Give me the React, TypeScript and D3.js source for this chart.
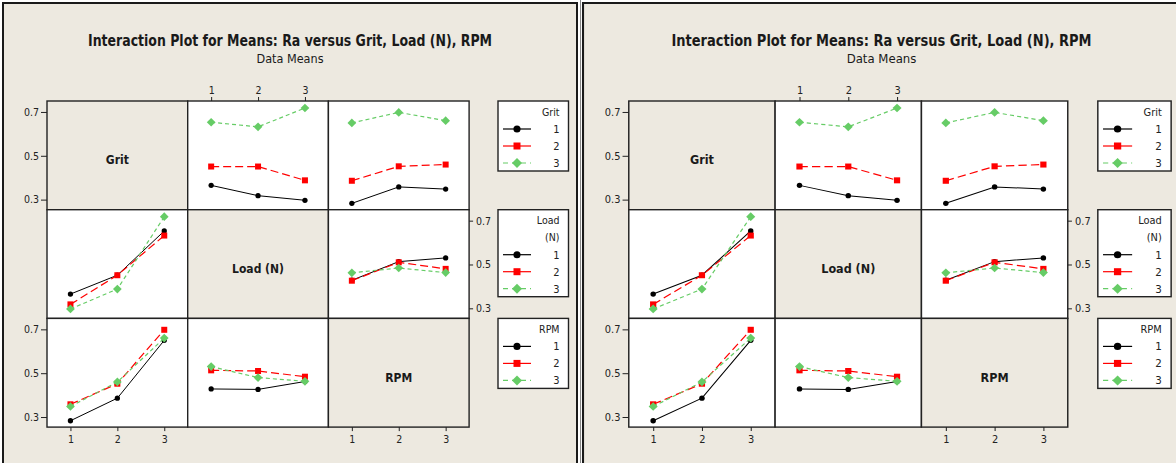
import { useRef, useEffect } from 'react';
import * as d3 from 'd3';

const levels = [1, 2, 3];
const factorLabels = ['Grit', 'Load (N)', 'RPM'];
const legendTitles = [['Grit'], ['Load', '(N)'], ['RPM']];
const yTicks = [0.3, 0.5, 0.7];

// mean Ra: [level of first factor][level of second factor]
const gritByLoad = [
  [0.365, 0.318, 0.297],
  [0.451, 0.451, 0.388],
  [0.653, 0.632, 0.718],
];
const gritByRpm = [
  [0.283, 0.358, 0.348],
  [0.386, 0.452, 0.46],
  [0.65, 0.698, 0.66],
];
const loadByRpm = [
  [0.428, 0.513, 0.53],
  [0.426, 0.51, 0.48],
  [0.462, 0.484, 0.463],
];

const BG = '#ede9e0';
const FONT = '"Liberation Sans Narrow", "DejaVu Sans Condensed", "Liberation Sans", sans-serif';
const seriesColor = ['#000000', '#ff0000', '#66cc66'];
const seriesDash = [null, '8,4', '4,3'];
const legendDash = [null, null, '5,4'];

// mean Ra for factor f1 at level a and factor f2 at level b
function meanRa(f1: number, a: number, f2: number, b: number): number {
  if (f1 > f2) return meanRa(f2, b, f1, a);
  if (f1 === 0 && f2 === 1) return gritByLoad[a][b];
  if (f1 === 0 && f2 === 2) return gritByRpm[a][b];
  return loadByRpm[a][b];
}

function symbolPath(i: number, big: boolean) {
  if (i === 0) return d3.symbol().type(d3.symbolCircle).size(big ? 40 : 22)()!;
  if (i === 1) return d3.symbol().type(d3.symbolSquare).size(big ? 49 : 36)()!;
  return d3.symbol().type(d3.symbolSquare).size(big ? 50 : 38)()!;
}

function drawPanel(g: d3.Selection<SVGGElement, unknown, null, undefined>) {
  const gridLeft = 47;
  const gridTop = 101;
  const colW = 140.7;
  const rowH = 108.7;
  const legendX = 498;
  const legendW = 70.5;

  g.append('rect').attr('x', 3).attr('y', 3).attr('width', 574).attr('height', 490)
    .attr('fill', BG).attr('stroke', '#1a1a1a').attr('stroke-width', 2);

  g.append('text').attr('x', 290).attr('y', 46).attr('text-anchor', 'middle')
    .attr('font-family', FONT).attr('font-weight', 'bold').attr('font-size', 16).attr('fill', '#1a1a1a')
    .attr('textLength', 404).attr('lengthAdjust', 'spacingAndGlyphs')
    .text('Interaction Plot for Means: Ra versus Grit, Load (N), RPM');
  g.append('text').attr('x', 290).attr('y', 63).attr('text-anchor', 'middle')
    .attr('font-family', FONT).attr('font-size', 13).attr('fill', '#1a1a1a')
    .attr('textLength', 67).attr('lengthAdjust', 'spacingAndGlyphs')
    .text('Data Means');

  const x = d3.scaleLinear().domain([0.5, 3.5]).range([0, colW]);
  const y = d3.scaleLinear().domain([0.254, 0.75]).range([rowH, 0]);

  for (let r = 0; r < 3; r++) {
    for (let c = 0; c < 3; c++) {
      const cell = g.append('g').attr('transform', `translate(${gridLeft + c * colW},${gridTop + r * rowH})`);
      cell.append('rect').attr('width', colW).attr('height', rowH)
        .attr('fill', r === c ? BG : '#fff').attr('stroke', '#222').attr('stroke-width', 1.4);
      if (r === c) {
        cell.append('text').attr('x', colW / 2).attr('y', rowH / 2 + 9).attr('text-anchor', 'middle')
          .attr('font-family', FONT).attr('font-weight', 'bold').attr('font-size', 12).attr('fill', '#1a1a1a')
          .text(factorLabels[r]);
        continue;
      }
      levels.forEach((_, s) => {
        const pts = levels.map((lv, b) => [x(lv), y(meanRa(r, s, c, b))] as [number, number]);
        cell.append('path').attr('d', d3.line()(pts)).attr('fill', 'none')
          .attr('stroke', seriesColor[s]).attr('stroke-width', s === 0 ? 1 : 1.2)
          .attr('stroke-dasharray', seriesDash[s]);
        pts.forEach(([px, py]) => {
          cell.append('path').attr('d', symbolPath(s, false)).attr('fill', seriesColor[s])
            .attr('transform', `translate(${px},${py})${s === 2 ? ' rotate(45)' : ''}`);
        });
      });
    }
  }

  const styleAxis = (ax: d3.Selection<SVGGElement, unknown, null, undefined>) => {
    ax.select('.domain').remove();
    ax.selectAll('line').attr('stroke', '#222');
    ax.selectAll('text').attr('font-family', FONT).attr('font-size', 10.5).attr('fill', '#222');
  };

  [0, 2].forEach((r) => {
    const ax = g.append('g').attr('transform', `translate(${gridLeft},${gridTop + r * rowH})`)
      .call(d3.axisLeft(y).tickValues(yTicks).tickSize(6).tickPadding(2).tickFormat(d3.format('.1f')));
    styleAxis(ax);
  });
  const axR = g.append('g').attr('transform', `translate(${gridLeft + 3 * colW},${gridTop + rowH})`)
    .call(d3.axisRight(y).tickValues(yTicks).tickSize(4).tickPadding(3).tickFormat(d3.format('.1f')));
  styleAxis(axR);
  const axT = g.append('g').attr('transform', `translate(${gridLeft + colW},${gridTop})`)
    .call(d3.axisTop(x).tickValues(levels).tickSize(4).tickPadding(3).tickFormat(d3.format('d')));
  styleAxis(axT);
  [0, 2].forEach((c) => {
    const ax = g.append('g').attr('transform', `translate(${gridLeft + c * colW},${gridTop + 3 * rowH})`)
      .call(d3.axisBottom(x).tickValues(levels).tickSize(4).tickPadding(4).tickFormat(d3.format('d')));
    styleAxis(ax);
  });

  legendTitles.forEach((titleLines, r) => {
    const top = gridTop + r * rowH;
    const h = 11 + (titleLines.length + 2) * 17 + 8;
    const lg = g.append('g').attr('transform', `translate(${legendX},${top})`);
    lg.append('rect').attr('width', legendW).attr('height', h).attr('fill', '#fff')
      .attr('stroke', '#222').attr('stroke-width', 1.4);
    titleLines.forEach((t, i) => {
      lg.append('text').attr('x', legendW - 9).attr('y', 11 + i * 17).attr('dy', '0.35em')
        .attr('text-anchor', 'end').attr('font-family', FONT).attr('font-size', 10.5).attr('fill', '#222')
        .text(t);
    });
    levels.forEach((lv, s) => {
      const ly = 11 + (titleLines.length + s) * 17;
      lg.append('line').attr('x1', 5).attr('x2', 33).attr('y1', ly).attr('y2', ly)
        .attr('stroke', seriesColor[s]).attr('stroke-width', 1.2).attr('stroke-dasharray', legendDash[s]);
      lg.append('path').attr('d', symbolPath(s, true)).attr('fill', seriesColor[s])
        .attr('transform', `translate(19,${ly})${s === 2 ? ' rotate(45)' : ''}`);
      lg.append('text').attr('x', legendW - 9).attr('y', ly).attr('dy', '0.35em')
        .attr('text-anchor', 'end').attr('font-family', FONT).attr('font-size', 11).attr('fill', '#222')
        .text(String(lv));
    });
  });
}

export default function App() {
  const svgRef = useRef<SVGSVGElement>(null);

  useEffect(() => {
    if (!svgRef.current) return;
    const svg = d3.select(svgRef.current);
    svg.selectAll('*').remove();
    svg.append('rect').attr('width', 1176).attr('height', 463).attr('fill', '#fff');
    // the second copy is slightly stretched horizontally in the reference
    drawPanel(svg.append('g'));
    drawPanel(svg.append('g').attr('transform', 'translate(579.9,0) scale(1.04,1)'));
    svg.append('line').attr('x1', 580.5).attr('x2', 580.5).attr('y1', 0).attr('y2', 463)
      .attr('stroke', '#888').attr('stroke-width', 1);
  }, []);

  return (
    <svg ref={svgRef} width={1176} height={463} style={{ position: 'absolute', left: 0, top: 0 }} />
  );
}
